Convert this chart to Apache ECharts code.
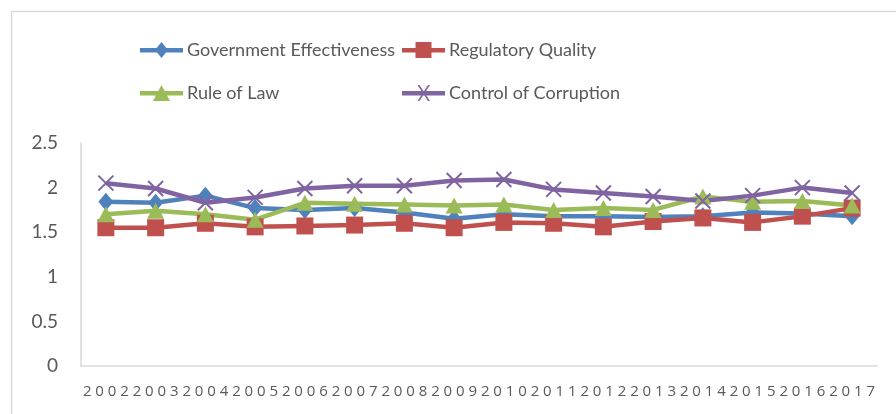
<!DOCTYPE html>
<html>
    <head>
        <meta charset="utf-8" />
        <script src="https://cdnjs.cloudflare.com/ajax/libs/echarts/6.0.0/echarts.min.js"></script>
    </head>
    <body style="margin: 0">
        <div id="main" style="width: 896px; height: 414px"></div>
        <script type="text/javascript">
            var years = ["2002", "2003", "2004", "2005", "2006", "2007", "2008", "2009",
                "2010", "2011", "2012", "2013", "2014", "2015", "2016", "2017"];
            var govEffectiveness = [1.84, 1.83, 1.91, 1.77, 1.75, 1.77, 1.72, 1.65, 1.70, 1.68, 1.68, 1.67, 1.68, 1.72, 1.71, 1.68];
            var regulatoryQuality = [1.55, 1.55, 1.60, 1.56, 1.57, 1.58, 1.60, 1.55, 1.61, 1.60, 1.56, 1.62, 1.66, 1.61, 1.68, 1.77];
            var ruleOfLaw = [1.70, 1.74, 1.70, 1.64, 1.83, 1.82, 1.81, 1.80, 1.81, 1.75, 1.77, 1.75, 1.90, 1.84, 1.85, 1.80];
            var controlOfCorruption = [2.05, 1.99, 1.83, 1.89, 1.99, 2.02, 2.02, 2.08, 2.09, 1.98, 1.94, 1.90, 1.85, 1.91, 2.00, 1.94];

            var myChart = echarts.init(document.getElementById("main"));

            var font = "Lato";
            var textColor = "#595959";
            var crossPath = "path://M0,0L10,10M10,0L0,10";

            // legend icons: thick line with the marker in the middle (43 x 16 box)
            var bar = "M0,6L43,6L43,10.5L0,10.5Z";
            var icons = {
                diamond: "path://" + bar + "M21.5,0L28,8L21.5,16L15,8Z",
                square: "path://" + bar + "M13.5,0L29.5,0L29.5,16L13.5,16Z",
                triangle: "path://" + bar + "M21.5,0L30,16L13,16Z",
                cross: "path://" + bar + "M15.5,0L17.5,0L28,16L26,16ZM26,0L28,0L17.5,16L15.5,16Z",
            };

            function makeSeries(name, data, color, symbol, size, extra) {
                var s = {
                    name: name,
                    type: "line",
                    data: data,
                    symbol: symbol,
                    symbolSize: size,
                    lineStyle: { color: color, width: 4.5 },
                    itemStyle: { color: color },
                };
                if (extra) s.itemStyle = extra;
                return s;
            }

            var legendStyle = {
                orient: "vertical",
                top: 41,
                padding: 0,
                itemWidth: 43,
                itemHeight: 16,
                itemGap: 25,
                itemStyle: { borderWidth: 0 },
                textStyle: { fontFamily: font, fontSize: 18, color: textColor, padding: [0, 0, 0, -1] },
            };

            myChart.setOption({
                animation: false,
                color: ["#4F81BD", "#C0504D", "#9BBB59", "#8064A2"],
                graphic: [
                    {
                        type: "rect",
                        shape: { x: 11.5, y: 11.5, width: 900, height: 430 },
                        style: { fill: "none", stroke: "#D9D9D9", lineWidth: 1.5 },
                    },
                ],
                legend: [
                    Object.assign({
                        left: 140,
                        data: [
                            { name: "Government Effectiveness", icon: icons.diamond },
                            { name: "Rule of Law", icon: icons.triangle },
                        ],
                    }, legendStyle),
                    Object.assign({
                        left: 402,
                        data: [
                            { name: "Regulatory Quality", icon: icons.square },
                            { name: "Control of Corruption", icon: icons.cross },
                        ],
                    }, legendStyle),
                ],
                grid: { left: 81, right: 19, top: 143, bottom: 48 },
                xAxis: {
                    type: "category",
                    data: years,
                    boundaryGap: true,
                    axisLine: { lineStyle: { color: "#D9D9D9", width: 1.5 } },
                    axisTick: { show: false },
                    axisLabel: {
                        interval: 0,
                        margin: 18,
                        fontFamily: "Open Sans",
                        fontSize: 15,
                        color: textColor,
                        formatter: function (v) {
                            return v.split("").join(" ");
                        },
                    },
                },
                yAxis: {
                    type: "value",
                    min: 0,
                    max: 2.5,
                    interval: 0.5,
                    splitLine: { show: false },
                    axisLine: { show: true, lineStyle: { color: "#D9D9D9", width: 1.5 } },
                    axisTick: { show: false },
                    axisLabel: { margin: 23, fontFamily: font, fontSize: 19, color: textColor },
                },
                series: [
                    makeSeries("Government Effectiveness", govEffectiveness, "#4F81BD", "diamond", [15, 18]),
                    makeSeries("Regulatory Quality", regulatoryQuality, "#C0504D", "rect", 17),
                    makeSeries("Rule of Law", ruleOfLaw, "#9BBB59", "triangle", [17, 16]),
                    makeSeries("Control of Corruption", controlOfCorruption, "#8064A2", crossPath, 15, {
                        color: "#8064A2",
                        borderColor: "#8064A2",
                        borderWidth: 2,
                    }),
                ],
            });
        </script>
    </body>
</html>
